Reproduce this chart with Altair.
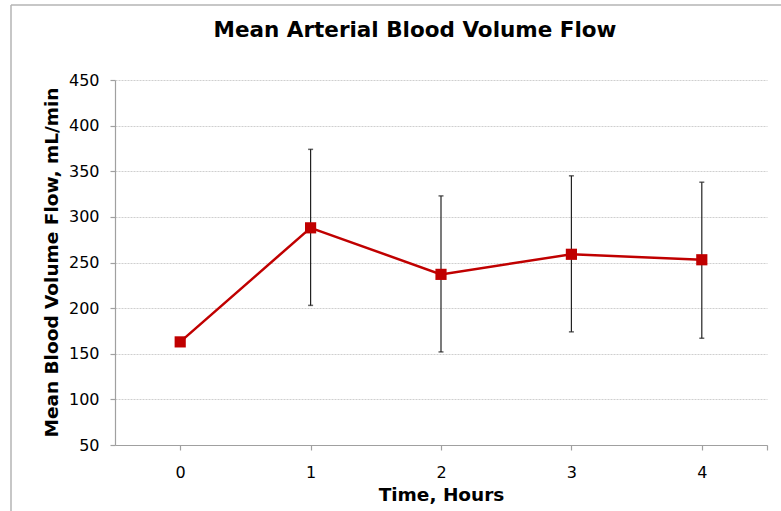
import altair as alt
import pandas as pd

# Mean arterial blood volume flow over time, with error bars
hours = [0, 1, 2, 3, 4]
mean_flow = [163, 288, 237, 259, 253]
err_low = [None, 203, 152, 174, 167]
err_high = [None, 374, 323, 345, 338]

chart_title = "Mean Arterial Blood Volume Flow"
x_title = "Time, Hours"
y_title = "Mean Blood Volume Flow, mL/min"
y_ticks = [50, 100, 150, 200, 250, 300, 350, 400, 450]
x_ticks = [0, 1, 2, 3, 4, 4.5]

FONT = "DejaVu Sans"
RED = "#C00000"
AXIS_GREY = "#a0a0a0"

df = pd.DataFrame({"hour": hours, "flow": mean_flow, "lo": err_low, "hi": err_high})
err_df = df.dropna(subset=["lo", "hi"])

x_enc = alt.X(
    "hour:Q",
    scale=alt.Scale(domain=[-0.5, 4.5], nice=False, zero=False),
    axis=alt.Axis(
        title=x_title,
        values=x_ticks,
        format="d",
        labelExpr="datum.value > 4 ? '' : datum.label",
        grid=False,
        tickSize=5,
        labelPadding=27,
        labelBaseline="alphabetic",
        titleY=55,
        titleBaseline="alphabetic",
    ),
)
y_enc = alt.Y(
    "flow:Q",
    scale=alt.Scale(domain=[50, 450], nice=False, zero=False),
    axis=alt.Axis(
        title=y_title,
        values=y_ticks,
        tickSize=5,
        labelPadding=11,
        titleX=-58,
        titleY=182,
        titleAngle=270,
        titleBaseline="alphabetic",
        titleAlign="center",
    ),
)

base = alt.Chart(df)

err_rule = alt.Chart(err_df).mark_rule(color="#222222", strokeWidth=1.2).encode(
    x=alt.X("hour:Q"), y=alt.Y("lo:Q"), y2="hi:Q"
)
cap_lo = alt.Chart(err_df).mark_tick(
    color="#222222", orient="horizontal", size=5, thickness=1.5
).encode(x="hour:Q", y="lo:Q")
cap_hi = alt.Chart(err_df).mark_tick(
    color="#222222", orient="horizontal", size=5, thickness=1.5
).encode(x="hour:Q", y="hi:Q")

line = base.mark_line(color=RED, strokeWidth=2.5).encode(x=x_enc, y=y_enc)
points = base.mark_square(color=RED, size=125, opacity=1).encode(x="hour:Q", y="flow:Q")

label_df = pd.DataFrame({"t": [chart_title]})
title_text = alt.Chart(label_df).mark_text(
    font=FONT, fontSize=21.5, fontWeight="bold", color="#000000",
    align="center", baseline="alphabetic",
).encode(text="t:N", x=alt.value(300), y=alt.value(-43))

# outer chart frame (top and left edges)
frame_top = alt.Chart(label_df).mark_rule(color="#b5b5b5", strokeWidth=1.5).encode(
    x=alt.value(-104), x2=alt.value(720), y=alt.value(-75)
)
frame_left = alt.Chart(label_df).mark_rule(color="#b5b5b5", strokeWidth=1.5).encode(
    x=alt.value(-104), y=alt.value(-75), y2=alt.value(520)
)

chart = (
    alt.layer(line, err_rule, cap_lo, cap_hi, points, title_text, frame_top, frame_left)
    .properties(
        width=652,
        height=365,
        autosize=alt.AutoSizeParams(type="none"),
        padding={"left": 115, "top": 80, "right": 14, "bottom": 66},
        background="#ffffff",
    )
    .configure_view(strokeWidth=0)
    .configure_axis(
        labelFont=FONT,
        labelFontSize=16,
        labelColor="#000000",
        titleFont=FONT,
        titleFontSize=18.5,
        titleFontWeight="bold",
        titleColor="#000000",
        domainColor=AXIS_GREY,
        domainWidth=1.2,
        tickColor=AXIS_GREY,
        tickWidth=1.2,
        gridColor="#cfcfcf",
        gridDash=[2, 1],
        gridWidth=1,
    )
)

chart.save("out.html", embed_options={"renderer": "svg", "actions": False})
